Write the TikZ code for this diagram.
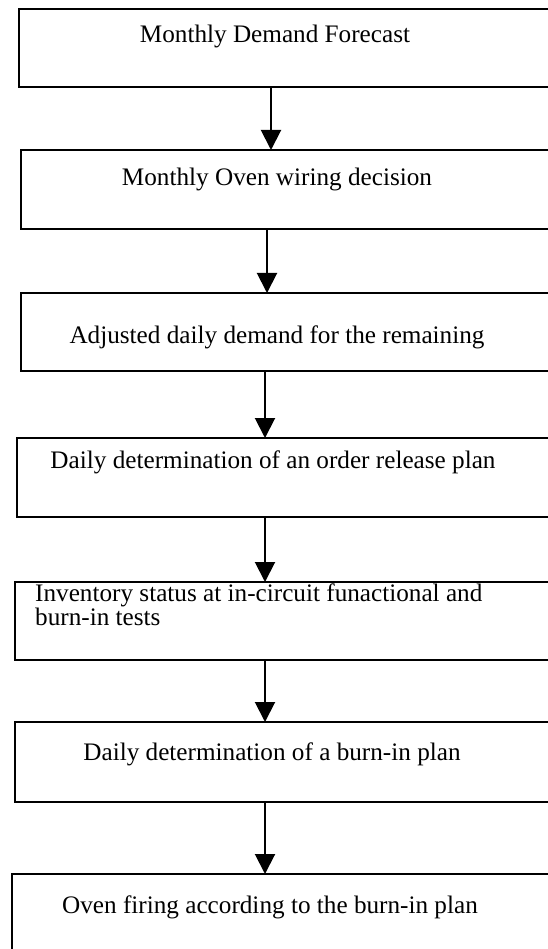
\documentclass[tikz,border=0pt]{standalone}
\usepackage{fontspec}
\setmainfont{Liberation Serif}
\usepackage{tikz}
\usetikzlibrary{arrows.meta}

\begin{document}
\begin{tikzpicture}[x=1pt, y=-1pt,
    box/.style={draw=black, line width=2pt, anchor=north west, inner sep=0pt, outer sep=0pt, minimum width=550pt},
    arr/.style={line width=2pt, -{Triangle[width=20pt,length=20pt]}},
    txt/.style={inner sep=0pt, anchor=base, font=\fontsize{25.2}{20}\selectfont}]
	\useasboundingbox (0,0) rectangle (548,949);
	\clip (0,0) rectangle (548,949);
	% boxes: number/left/top/height
	\foreach \n/\l/\t/\h in {1/19/9/78, 2/21/150/79, 3/21/293/78, 4/17/438/79, 5/15/582/78, 6/15/722/80, 7/12/874/90}
	  \node[box, minimum height=\h pt] (b\n) at (\l,\t) {};
	% texts
	\node[txt] (t1) at (275,43) {Monthly Demand Forecast};
	\node[txt] (t2) at (277,186) {Monthly Oven wiring decision};
	\node[txt] (t3) at (277,343) {Adjusted daily demand for the remaining};
	\node[txt] (t4) at (273,468) {Daily determination of an order release plan};
	\node[txt, anchor=base west, align=left] (t5) at (35,625) {Inventory status at in-circuit funactional and\\burn-in tests};
	\node[txt] (t6) at (272,760) {Daily determination of a burn-in plan};
	\node[txt] (t7) at (270,913) {Oven firing according to the burn-in plan};
	% arrows
	\draw[arr] (b1.south -| 271,0) -- (b2.north -| 271,0);
	\draw[arr] (b2.south -| 267,0) -- (b3.north -| 267,0);
	\foreach \i/\j in {3/4,4/5,5/6,6/7}
	  \draw[arr] (b\i.south -| 265,0) -- (b\j.north -| 265,0);
\end{tikzpicture}
\end{document}
